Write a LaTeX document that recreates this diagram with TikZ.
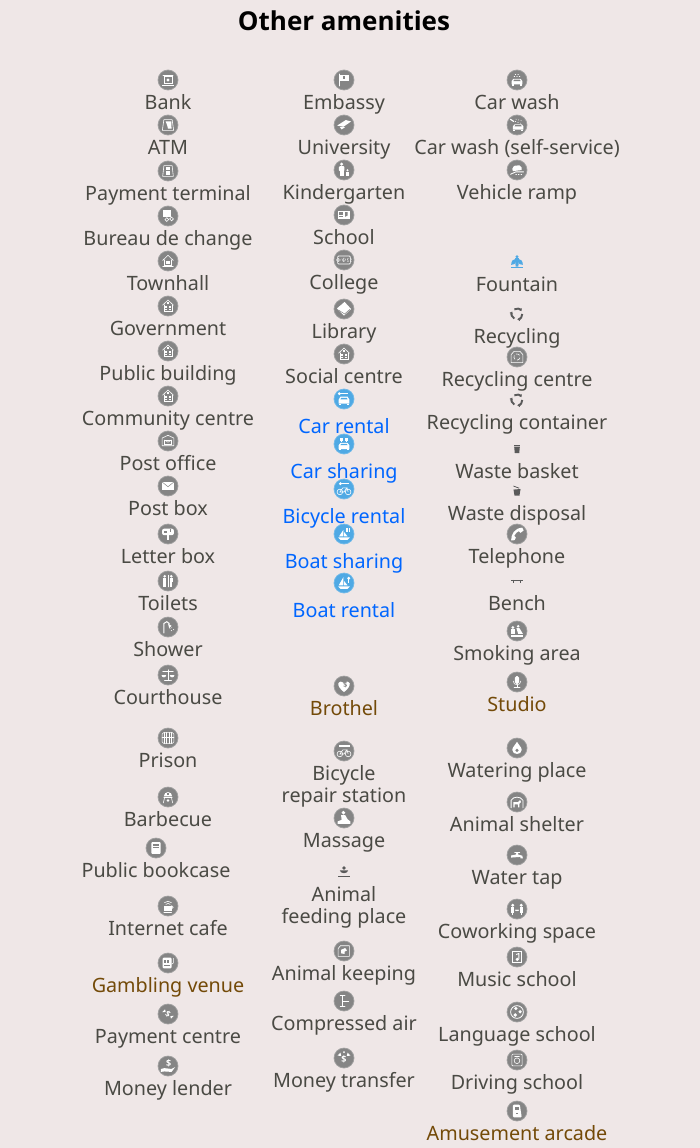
\documentclass[tikz,border=0pt]{standalone}
\usepackage{fontspec}
\usetikzlibrary{arrows.meta}
\setmainfont{Noto Sans}
\newfontfamily\titlefont{Open Sans}
\definecolor{paper}{HTML}{EFE7E7}
\definecolor{txtgray}{HTML}{4A4A44}
\definecolor{linkblue}{HTML}{0066FF}
\definecolor{venuebrown}{HTML}{734A08}
\definecolor{icgray}{HTML}{858585}
\definecolor{icring}{HTML}{A0A0A0}
\definecolor{icblue}{HTML}{4FA9E4}
\definecolor{smallgray}{HTML}{5A5A5A}
\tikzset{
  every pic/.style={scale=1.18},
  ic/.style={circle, fill=icgray, draw=icring, line width=.7pt, minimum size=20pt, inner sep=0},
  icb/.style={circle, fill=icblue, draw=icblue!80!white, line width=.7pt, minimum size=20pt, inner sep=0},
  spot/.style={minimum size=12pt, inner sep=0},
  lbl/.style={anchor=base, text=txtgray, inner sep=0, align=center, font=\fontsize{19.75}{22}\selectfont},
  lblb/.style={lbl, text=linkblue},
  lblv/.style={lbl, text=venuebrown},
  gw/.style={draw=white, line width=.6pt, line cap=round},
  pics/gbank/.style={code={
    \draw[gw] (-3.5,-3) rectangle (3.5,3.2); \draw[gw] (-4.8,4.4)--(4.8,4.4); \draw[gw] (-4.2,-4.2)--(4.2,-4.2);
    \fill[white] (0,0) circle (1.4);}},
  pics/gatm/.style={code={
    \draw[gw] (-3.5,-4.5)--(3.5,-4.5)--(4.8,4.5)--(-4.8,4.5)--cycle; \fill[white] (-2,-3)--(2.8,-3)--(3,3)--(0,3)--(-.8,0)--cycle;}},
  pics/gterm/.style={code={
    \draw[gw] (-3.5,-4.5)--(3.5,-4.5)--(4.5,4.5)--(-4.5,4.5)--cycle; \fill[white] (-1.8,-3) rectangle (1.8,-.8); \fill[white] (-2,.2) rectangle (2,3);}},
  pics/gchange/.style={code={
    \fill[white] (-4.5,-5) rectangle (2.5,.5); \draw[gw] (-1,3) circle (1.6); \draw[gw] (3,2.5) circle (1.6);}},
  pics/gtown/.style={code={
    \draw[gw] (-4.5,-.5)--(0,-4.8)--(4.5,-.5); \draw[gw] (-3.2,-1)--(-3.2,4)--(3.2,4)--(3.2,-1); \fill[white] (-1.3,.3) rectangle (1.3,2.5); \draw[gw] (-4.5,4.8)--(4.5,4.8);}},
  pics/ggov/.style={code={
    \draw[gw] (-4.5,-.8)--(0,-5)--(4.5,-.8); \draw[gw] (-3.4,-1)--(-3.4,4.6)--(3.4,4.6)--(3.4,-1); \fill[white] (-.7,-3) rectangle (.7,-1.6);
    \fill[white] (-2.2,-.4) rectangle (-.6,1.6); \fill[white] (.6,-.4) rectangle (2.2,1.6); \fill[white] (-2.2,2.4) rectangle (-.6,3.8); \fill[white] (.6,2.4) rectangle (2.2,3.8);}},
  pics/gpost/.style={code={
    \draw[gw] (-5,-2.5)--(0,-4.8)--(5,-2.5)--(5,4)--(-5,4)--cycle; \draw[gw, line width=.5pt] (-3,-.8) rectangle (3,2.6); \draw[gw, line width=.5pt] (-3,-.8)--(0,1)--(3,-.8);}},
  pics/gbox/.style={code={
    \fill[white] (-5,-3.4) rectangle (5,3.4); \draw[icgray, line width=.5pt] (-5,-3.4)--(0,.6)--(5,-3.4);}},
  pics/gletter/.style={code={
    \fill[white, rounded corners=2pt] (-5,-4.5) rectangle (5,1); \fill[white] (-1,0) rectangle (1,5); \fill[icgray] (-3.2,-2.6) rectangle (-.8,-.6); \fill[icgray] (1.6,-4.5) rectangle (2.6,-2);}},
  pics/gtoilet/.style={code={
    \fill[white] (-2.8,-4) circle (1.2); \fill[white] (2.8,-4) circle (1.2); \fill[white] (-4.2,-2.4) rectangle (-1.4,4.8); \fill[white] (1.4,-2.4) rectangle (4.2,.8); \fill[white] (1.9,.8) rectangle (3.7,4.8); \draw[gw, line width=.4pt] (0,-5)--(0,5);}},
  pics/gshower/.style={code={
    \draw[gw, line width=1pt] (-3.5,5)--(-3.5,-3)--(-1,-4.5)--(1,-3); \fill[white] (0,-3)--(3,-1)--(1,1)--cycle;
    \draw[gw, dotted] (1.5,1)--(3.5,4); \draw[gw, dotted] (3,.5)--(5,2.5);}},
  pics/gscale/.style={code={
    \draw[gw] (0,-4.5)--(0,4.2); \draw[gw] (-3,4.4)--(3,4.4); \draw[gw] (-4.5,-3)--(4.5,-3); \fill[white] (-5.5,0) arc (180:0:2) --cycle; \fill[white] (1.5,0) arc (180:0:2)--cycle;}},
  pics/gprison/.style={code={
    \draw[gw, rounded corners=1.5pt] (-5,-4.5) rectangle (5,4.5); \foreach \xb in {-3,-1,1,3} {\draw[gw, line width=1pt] (\xb,-4.5)--(\xb,4.5);} \draw[gw] (-5,-1)--(5,-1);}},
  pics/gbbq/.style={code={
    \fill[white] (-3.5,-.6) arc (180:360:3.5 and 3.6) --cycle; \draw[gw] (-3,1)--(-4,5); \draw[gw] (3,1)--(4,5); \draw[gw] (-3.5,.4)--(3.5,.4); \fill[white] (0,3) circle (1.2); \fill[icgray] (-1,-3.3) rectangle (1,-1.8);}},
  pics/gbookcase/.style={code={
    \fill[white, rounded corners=1pt] (-4,-5) rectangle (4,5); \fill[icgray] (-2.8,-3.6) rectangle (2.8,-1.6); \fill[icgray] (-2.8,-.8) rectangle (2.8,.4);}},
  pics/gcafe/.style={code={
    \draw[gw] (-3,-2.8) arc (-135:-45:4.2); \draw[gw] (-1.8,-1.4) arc (-135:-45:2.6); \fill[white] (-3.5,0) rectangle (3,4) ; \draw[gw] (3.2,1) circle (1.2); \draw[gw] (-3.5,5)--(3,5);}},
  pics/gslot/.style={code={
    \fill[white, rounded corners=1pt] (-4.5,-4.5) rectangle (3,4.5); \fill[icgray] (-3.3,-2.6) rectangle (-1.7,0); \fill[icgray] (-1,-2.6) rectangle (.6,0); \fill[icgray] (-3.3,1.5) rectangle (1.5,2.5); \draw[gw] (4.5,-4)--(4.5,0)--(3,1);}},
  pics/gpayc/.style={code={
    \node[text=white, font=\fontsize{8}{8}\selectfont\titlefont\bfseries, inner sep=0, rotate=-30] (gd) at (0,0) {\$}; \fill[white] (-5,-1.5)--(-2.5,-4)--(-2,-1.8)--cycle; \fill[white] (5,1.5)--(2.5,4)--(2,1.8)--cycle;}},
  pics/glender/.style={code={
    \node[text=white, font=\fontsize{9}{9}\selectfont\titlefont\bfseries, inner sep=0] (gd) at (.5,-2.2) {\$}; \fill[white] (-6,2.5)--(-3,1.8)--(3,2.5)--(6,1)--(3,5)--(-3,4.6)--(-6,5)--cycle;}},
  pics/gflag/.style={code={
    \draw[gw, line width=.9pt] (-4,-5)--(-4,5); \fill[white] (-3.5,-4.5) rectangle (4.2,1.2); \fill[icgray] (-1,-3) rectangle (1.2,-1);}},
  pics/gcap/.style={code={
    \fill[white] (-5.8,.5)--(1.5,-4.2)--(6,-3)--(-.5,1.5)--cycle; \fill[white] (-3.5,1.8)--(1,1.8)--(-2,3.8)--cycle;}},
  pics/gkinder/.style={code={
    \fill[white] (-2,-5) circle (1.4); \fill[white, rounded corners=1pt] (-4.4,-3.2) rectangle (.4,1); \fill[white] (-3.6,1) rectangle (-.4,5.4); \fill[white] (3,.2) circle (1); \fill[white] (2,1.4) rectangle (4,5.4);}},
  pics/gschool/.style={code={
    \fill[white] (-5.4,-3.6) rectangle (5.4,3.2); \fill[icgray] (-4,-2.4) rectangle (-1,-.4); \fill[icgray] (1,-2.4)--(3,-2.4)--(3,.5)--(1,1.5)--cycle; \draw[icgray, line width=.5pt] (-4,1)--(-1,1);}},
  pics/gcollege/.style={code={
    \draw[gw, rounded corners=1pt] (-5.4,-3.4) rectangle (5.4,3.4); \node[text=white, font=\fontsize{6}{6}\selectfont, inner sep=0] (gd) at (0,0) {$\Phi\Psi\Omega$};}},
  pics/glib/.style={code={
    \fill[white] (-6,-.5)--(.5,-6)--(6,0)--(0,5.6)--cycle; \draw[icgray, line width=.5pt] (-4.8,.8)--(.5,4.2)--(5,.3);}},
  pics/gkeycar/.style={code={
    \fill[white] (-4,-4.5) circle (1.3); \fill[white] (-4,-5.1) rectangle (3.5,-3.9); \fill[white] (-4.5,.5)--(-3,-2)--(3,-2)--(4.5,.5)--(4.5,4)--(-4.5,4)--cycle; \fill[icblue] (-2.4,-1)--(2.4,-1)--(3,.4)--(-3,.4)--cycle; \fill[white] (-4.2,4) rectangle (-2.6,5.2); \fill[white] (2.6,4) rectangle (4.2,5.2);}},
  pics/gsharecar/.style={code={
    \fill[white] (-3,-5.5) rectangle (-1.2,-2.5); \fill[white] (1.2,-5.5) rectangle (3,-2.5); \fill[white] (-2.6,-2.5) rectangle (-1.6,-1.5); \fill[white] (1.6,-2.5) rectangle (2.6,-1.5);
    \fill[white] (-4.5,1)--(-3,-1)--(3,-1)--(4.5,1)--(4.5,4.4)--(-4.5,4.4)--cycle; \fill[icblue] (-2.4,-.2)--(2.4,-.2)--(3,1)--(-3,1)--cycle; \fill[white] (-4.2,4.4) rectangle (-2.6,5.4); \fill[white] (2.6,4.4) rectangle (4.2,5.4);}},
  pics/gkeybike/.style={code={
    \fill[white] (-3,-4.5) circle (1.3); \fill[white] (-3,-5.1) rectangle (4,-3.9); \draw[gw] (-3.5,2.5) circle (2.4); \draw[gw] (3.5,2.5) circle (2.4); \draw[gw] (-3.5,2.5)--(-1,-1)--(2.5,-1)--(0,2.5)--cycle; \draw[gw] (2.5,-1)--(3.5,2.5);}},
  pics/gshareboat/.style={code={
    \fill[white] (-4.2,2)--(-.5,-3.5)--(-.5,2)--cycle; \fill[white] (.2,-1.5)--(3,2)--(.2,2)--cycle; \fill[white] (-5,2.8)--(5,2.8)--(3,5)--(-3,5)--cycle; \fill[white] (2,-5) rectangle (3,-2); \fill[white] (4,-5) rectangle (5,-2);}},
  pics/gkeyboat/.style={code={
    \fill[white] (-4.5,2)--(-.5,-5)--(-.5,2)--cycle; \fill[white] (.2,-1.5)--(3,2)--(.2,2)--cycle; \fill[white] (-5,2.8)--(5,2.8)--(3,5)--(-3,5)--cycle; \fill[white] (4,-4) circle (1.4); \fill[white] (3.5,-4) rectangle (4.5,0);}},
  pics/gheart/.style={code={
    \fill[white] (0,5.2) .. controls (-8,-1) and (-5,-6.2) .. (0,-2.4) .. controls (5,-6.2) and (8,-1) .. (0,5.2); \node[text=icgray, font=\fontsize{7}{7}\selectfont\titlefont\bfseries, inner sep=0] (gd) at (1.2,-.5) {\$};}},
  pics/gbikerep/.style={code={
    \fill[white] (-4.5,-5.2) rectangle (5,-3.6); \draw[gw] (-3.5,2.5) circle (2.4); \draw[gw] (3.5,2.5) circle (2.4); \draw[gw] (-3.5,2.5)--(-1,-1)--(2.5,-1)--(0,2.5)--cycle; \draw[gw] (2.5,-1)--(3.5,2.5);}},
  pics/gmassage/.style={code={
    \fill[white] (-.5,-4.5) circle (1.6); \fill[white] (-2.5,-2.5)--(1,-2.5)--(3,1)--(5.5,3)--(5.5,5)--(-5.5,5)--(-5.5,3)--(-2,1.5)--cycle;}},
  pics/gkeep/.style={code={
    \draw[gw] (-5,-2)--(-3,-4.5)--(4.5,-4.5)--(4.5,4.5)--(-5,4.5)--cycle; \fill[white] (-2.5,2)--(-2.5,-1)--(1,-2.5)--(2.5,-.5)--(.5,.5)--(.5,2.5)--cycle;}},
  pics/gair/.style={code={
    \draw[gw, line width=1.6pt, line cap=butt] (-1.2,-5.2)--(-1.2,5.2); \draw[gw, line width=1pt] (-1,0)--(4,0); \draw[gw, line width=1pt] (-3,-5)--(.8,-5); \draw[gw, line width=1pt] (-3,5)--(.8,5);}},
  pics/gmoneyt/.style={code={
    \node[text=white, font=\fontsize{9}{9}\selectfont\titlefont\bfseries, inner sep=0] (gd) at (0,1.5) {\$}; \fill[white] (-5.5,-2)--(-3,-4.5)--(-2.4,-1.8)--cycle; \fill[white] (5.5,-2)--(3,-4.5)--(2.4,-1.8)--cycle; \fill[white] (0,-5) circle (.8);}},
  pics/gwash/.style={code={
    \fill[white] (-4.5,.8)--(-3,-1)--(3,-1)--(4.5,.8)--(4.5,3.8)--(-4.5,3.8)--cycle; \fill[icgray] (-2.4,-.3)--(2.4,-.3)--(3,.9)--(-3,.9)--cycle; \fill[white] (-4.2,3.8) rectangle (-2.6,5); \fill[white] (2.6,3.8) rectangle (4.2,5); \draw[gw, dotted] (-2.5,-3)--(2.5,-3); \draw[gw, dotted] (-1.5,-5)--(1.5,-5);}},
  pics/gwashs/.style={code={
    \fill[white] (-3.5,1.2)--(-2,-.6)--(4,-.6)--(5.5,1.2)--(5.5,4)--(-3.5,4)--cycle; \fill[icgray] (-1.4,0)--(3.4,0)--(4,1.1)--(-2,1.1)--cycle; \fill[white] (-3.2,4) rectangle (-1.6,5.2); \fill[white] (3.6,4) rectangle (5.2,5.2); \draw[gw, line width=1.2pt] (-5.5,-4.8)--(-2.8,-3); \draw[gw, dotted] (-1.5,-3)--(3,-1.5); \draw[gw, dotted] (-1,-5)--(4,-3.5);}},
  pics/gramp/.style={code={
    \fill[white] (-4,-1)--(-2.5,-3.5)--(2,-4)--(4,-2)--(4,0)--(-3.5,1)--cycle; \draw[gw, line width=.9pt] (-5.5,3.6)--(-1,1.6)--(5.5,1.6); \draw[gw, dotted, line width=.9pt] (-1,4)--(5.5,4);}},
  pics/grecc/.style={code={
    \draw[gw] (-5,-2)--(-2.5,-4.8)--(2.5,-4.8)--(5,-2)--(5,4.8)--(-5,4.8)--cycle; \foreach \arot in {0,120,240} {\draw[gw, rotate=\arot] (15:2.6) arc (15:85:2.6);}}},
  pics/gtel/.style={code={
    \fill[white] (-5,5.5)--(-2,5.2)--(-1,3)--(-2.4,1.6) .. controls (-1,-.6) and (0,-2) .. (1.6,-2.4) -- (3,-1)--(5.6,-3)--(4.5,-5.4) .. controls (-2,-5) and (-5,0) .. cycle;}},
  pics/gsmoke/.style={code={
    \fill[white] (-5.5,3)--(5.5,3)--(5.5,5)--(-5.5,5)--cycle; \fill[white] (-3.5,-3) circle (1.2); \fill[white] (-5,-1.5) rectangle (-1.6,2.4); \fill[white] (1,-4) circle (1.2); \fill[white] (-.5,-2.5)--(2,-2.5)--(5,2.4)--(1,2.4)--cycle;}},
  pics/gmic/.style={code={
    \fill[white, rounded corners=1.6pt] (-1.8,-5) rectangle (1.8,1.6); \draw[gw] (-3.2,-.8) arc (180:0:3.2); \draw[gw] (0,2.4)--(0,4.6); \draw[gw] (-2.5,4.8)--(2.5,4.8);}},
  pics/gdrop/.style={code={
    \fill[white] (0,-5.2) .. controls (1,-2.6) and (4,-1) .. (4,1.6) .. controls (4,6.2) and (-4,6.2) .. (-4,1.6) .. controls (-4,-1) and (-1,-2.6) .. (0,-5.2); \fill[icgray] (0,2) circle (1.4);}},
  pics/gshelter/.style={code={
    \draw[gw, line width=.8pt] (-5,5)--(-5,-1.5) .. controls (-3,-5) and (3,-5) .. (5,-1.5)--(5,5); \fill[white] (-3,4.6)--(-3,0)--(1,0)--(2.6,-1.6)--(3.4,0)--(2,1.6)--(2,4.6)--(1,4.6)--(.8,2)--(-2,2)--(-2,4.6)--cycle;}},
  pics/gtap/.style={code={
    \fill[white] (-5,2.2)--(-5,.4)--(-1,-.4)--(-.5,-1.8)--(.8,-1.8)--(1,-.4)--(4.5,.6)--(5,2.8)--(3,2.8)--(2.8,1.6)--cycle; \draw[gw] (-2,-2.6)--(2.4,-2.6);}},
  pics/gcowork/.style={code={
    \fill[white] (-3.6,-3.2) circle (1.3); \fill[white] (3.6,-3.2) circle (1.3); \fill[white] (-5,-1.6) rectangle (-2.2,3); \fill[white] (2.2,-1.6) rectangle (5,3); \fill[white] (-4.6,3) rectangle (-3,5); \fill[white] (3,3) rectangle (4.6,5); \draw[gw, line width=.5pt, {Latex[length=1.5pt,width=2pt]}-{Latex[length=1.5pt,width=2pt]}] (-1.8,1)--(1.8,1); }},
  pics/gmusic/.style={code={
    \draw[gw] (-4,-4.8) rectangle (4,4.8); \draw[gw, line width=.9pt] (1.6,1.8)--(1.6,-3)--(-.5,-2.2); \fill[white] (.2,2) circle (1.4);}},
  pics/glang/.style={code={
    \draw[gw, line width=.8pt] (0,0) circle (5.4); \fill[white] (-1,-3) circle (1.5); \fill[white] (2.6,-.2) circle (1.5); \fill[white] (-1.5,2.6) circle (1.6);}},
  pics/gdrive/.style={code={
    \draw[gw, rounded corners=1pt] (-4.4,-5) rectangle (4.4,5); \draw[gw] (0,.6) circle (2.4); \draw[gw] (-2,-3.4)--(2,-3.4);}},
  pics/garcade/.style={code={
    \fill[white, rounded corners=1pt] (-3.4,-5.4)--(2.4,-5.4)--(4,5.4)--(-3.4,5.4)--cycle; \fill[icgray] (-1.8,-3.6) rectangle (1.4,-.6); \fill[icgray] (-.6,1.4) rectangle (.8,2.8);}},
  pics/gfountain/.style={code={
    \fill[icblue] (0,-4.4) circle (1.4); \fill[icblue] (-1.5,-3.2) -- (1.5,-3.2) -- (1.2,4) -- (-1.2,4) -- cycle;
    \fill[icblue] (-1,-2.8) .. controls (-3.4,-2.6) and (-4.8,-.8) .. (-5,2.4) -- (-2.2,1.8) .. controls (-2,.6) and (-1.6,.2) .. (-1,0) -- cycle;
    \fill[icblue] (1,-2.8) .. controls (3.4,-2.6) and (4.8,-.8) .. (5,2.4) -- (2.2,1.8) .. controls (2,.6) and (1.6,.2) .. (1,0) -- cycle;
    \fill[icblue] (-5,3.9) rectangle (5,4.9);}},
  pics/grecy/.style={code={
    \foreach \arot in {0,120,240} {\draw[smallgray, line width=1.9pt, rotate=\arot, -{Latex[length=2.6pt,width=4pt]}] (0:4.5) arc (0:88:4.5);}}},
  pics/gbasket/.style={code={
    \fill[smallgray] (-2.4,-2)--(2.4,-2)--(1.9,3.4)--(-1.9,3.4)--cycle; \fill[smallgray] (-2.8,-3.4) rectangle (2.8,-2.7);}},
  pics/gdisposal/.style={code={
    \fill[smallgray] (-3,-1.2)--(3,-1.7)--(2.1,3.9)--(-2.1,3.9)--cycle; \draw[smallgray, line width=.8pt] (-3,-4.2)--(1.8,-2.4);}},
  pics/gbench/.style={code={
    \draw[smallgray, line width=.6pt] (-5,-1)--(5,-1); \draw[smallgray, line width=.6pt] (-3.2,-1)--(-3.2,1.4); \draw[smallgray, line width=.6pt] (3.2,-1)--(3.2,1.4);}},
  pics/gfeed/.style={code={
    \fill[smallgray] (0,-3.4) circle (1.5); \fill[smallgray] (-3.5,-1.4) arc (180:0:3.5 and 2.4) --cycle; \fill[smallgray] (-5,3.4) rectangle (5,4.4);}}
}
\begin{document}
\begin{tikzpicture}[x=1pt, y=-1pt]
    \useasboundingbox [fill=paper] (0,0) rectangle (700,1148);

    \node [anchor=base, inner sep=0, font=\fontsize{26}{28}\selectfont\titlefont\bfseries] (title) at (344,31) {Other amenities};

    % left column
    \node [ic] (bank) at (168,80) {}; \pic at (bank) {gbank};
    \node [lbl] (bankt) at (168,109) {Bank};
    \node [ic] (atm) at (168,125) {}; \pic at (atm) {gatm};
    \node [lbl] (atmt) at (168,154) {ATM};
    \node [ic] (term) at (168,171) {}; \pic at (term) {gterm};
    \node [lbl] (termt) at (168,200) {Payment terminal};
    \node [ic] (change) at (168,216) {}; \pic at (change) {gchange};
    \node [lbl] (changet) at (168,245) {Bureau de change};
    \node [ic] (town) at (168,261) {}; \pic at (town) {gtown};
    \node [lbl] (townt) at (168,290) {Townhall};
    \node [ic] (gov) at (168,306) {}; \pic at (gov) {ggov};
    \node [lbl] (govt) at (168,335) {Government};
    \node [ic] (public) at (168,351) {}; \pic at (public) {ggov};
    \node [lbl] (publict) at (168,380) {Public building};
    \node [ic] (comm) at (168,396) {}; \pic at (comm) {ggov};
    \node [lbl] (commt) at (168,425) {Community centre};
    \node [ic] (post) at (168,441) {}; \pic at (post) {gpost};
    \node [lbl] (postt) at (168,470) {Post office};
    \node [ic] (box) at (168,486) {}; \pic at (box) {gbox};
    \node [lbl] (boxt) at (168,515) {Post box};
    \node [ic] (letter) at (168,534) {}; \pic at (letter) {gletter};
    \node [lbl] (lettert) at (168,563) {Letter box};
    \node [ic] (toilet) at (168,581) {}; \pic at (toilet) {gtoilet};
    \node [lbl] (toilett) at (168,610) {Toilets};
    \node [ic] (shower) at (168,627) {}; \pic at (shower) {gshower};
    \node [lbl] (showert) at (168,656) {Shower};
    \node [ic] (court) at (168,675) {}; \pic at (court) {gscale};
    \node [lbl] (courtt) at (168,704) {Courthouse};
    \node [ic] (prison) at (168,738) {}; \pic at (prison) {gprison};
    \node [lbl] (prisont) at (168,767) {Prison};
    \node [ic] (bbq) at (168,797) {}; \pic at (bbq) {gbbq};
    \node [lbl] (bbqt) at (168,826) {Barbecue};
    \node [ic] (bookc) at (156,848) {}; \pic at (bookc) {gbookcase};
    \node [lbl] (bookct) at (156,877) {Public bookcase};
    \node [ic] (cafe) at (168,906) {}; \pic at (cafe) {gcafe};
    \node [lbl] (cafet) at (168,935) {Internet cafe};
    \node [ic] (gamble) at (168,963) {}; \pic at (gamble) {gslot};
    \node [lblv] (gamblet) at (168,992) {Gambling venue};
    \node [ic] (payc) at (168,1014) {}; \pic at (payc) {gpayc};
    \node [lbl] (payct) at (168,1043) {Payment centre};
    \node [ic] (lender) at (168,1066) {}; \pic at (lender) {glender};
    \node [lbl] (lendert) at (168,1095) {Money lender};

    % middle column
    \node [ic] (embassy) at (344,80) {}; \pic at (embassy) {gflag};
    \node [lbl] (embassyt) at (344,109) {Embassy};
    \node [ic] (univ) at (344,125) {}; \pic at (univ) {gcap};
    \node [lbl] (univt) at (344,154) {University};
    \node [ic] (kinder) at (344,170) {}; \pic at (kinder) {gkinder};
    \node [lbl] (kindert) at (344,199) {Kindergarten};
    \node [ic] (school) at (344,215) {}; \pic at (school) {gschool};
    \node [lbl] (schoolt) at (344,244) {School};
    \node [ic] (college) at (344,260) {}; \pic at (college) {gcollege};
    \node [lbl] (collegt) at (344,289) {College};
    \node [ic] (library) at (344,309) {}; \pic at (library) {glib};
    \node [lbl] (libraryt) at (344,338) {Library};
    \node [ic] (social) at (344,354) {}; \pic at (social) {ggov};
    \node [lbl] (socialt) at (344,383) {Social centre};
    \node [icb] (carr) at (344,399) {}; \pic at (carr) {gkeycar};
    \node [lblb] (carrt) at (344,433) {Car rental};
    \node [icb] (cars) at (344,444) {}; \pic at (cars) {gsharecar};
    \node [lblb] (carst) at (344,478) {Car sharing};
    \node [icb] (biker) at (344,489) {}; \pic at (biker) {gkeybike};
    \node [lblb] (bikert) at (344,523) {Bicycle rental};
    \node [icb] (boats) at (344,534) {}; \pic at (boats) {gshareboat};
    \node [lblb] (boatst) at (344,568) {Boat sharing};
    \node [icb] (boatr) at (344,583) {}; \pic at (boatr) {gkeyboat};
    \node [lblb] (boatrt) at (344,617) {Boat rental};
    \node [ic] (brothel) at (344,686) {}; \pic at (brothel) {gheart};
    \node [lblv] (brothelt) at (344,715) {Brothel};
    \node [ic] (bikerep) at (344,751) {}; \pic at (bikerep) {gbikerep};
    \node [lbl] (bikerept) at (344,802) {Bicycle\\repair station};
    \node [ic] (massage) at (344,818) {}; \pic at (massage) {gmassage};
    \node [lbl] (massaget) at (344,847) {Massage};
    \node [spot] (feed) at (344,872) {}; \pic at (feed) {gfeed};
    \node [lbl] (feedt) at (344,923) {Animal\\feeding place};
    \node [ic] (keep) at (344,951) {}; \pic at (keep) {gkeep};
    \node [lbl] (keept) at (344,980) {Animal keeping};
    \node [ic] (air) at (344,1001) {}; \pic at (air) {gair};
    \node [lbl] (airt) at (344,1030) {Compressed air};
    \node [ic] (moneyt) at (344,1058) {}; \pic at (moneyt) {gmoneyt};
    \node [lbl] (moneytt) at (344,1087) {Money transfer};

    % right column
    \node [ic] (wash) at (517,80) {}; \pic at (wash) {gwash};
    \node [lbl] (washt) at (517,109) {Car wash};
    \node [ic] (washs) at (517,125) {}; \pic at (washs) {gwashs};
    \node [lbl] (washst) at (517,154) {Car wash (self-service)};
    \node [ic] (ramp) at (517,170) {}; \pic at (ramp) {gramp};
    \node [lbl] (rampt) at (517,199) {Vehicle ramp};
    \node [spot] (fountain) at (517,262) {}; \pic at (fountain) {gfountain};
    \node [lbl] (fountaint) at (517,291) {Fountain};
    \node [spot] (recy) at (517,314) {}; \pic at (recy) {grecy};
    \node [lbl] (recyt) at (517,343) {Recycling};
    \node [ic] (recc) at (517,357) {}; \pic at (recc) {grecc};
    \node [lbl] (recct) at (517,386) {Recycling centre};
    \node [spot] (recb) at (517,400) {}; \pic at (recb) {grecy};
    \node [lbl] (recbt) at (517,429) {Recycling container};
    \node [spot] (basket) at (517,449) {}; \pic at (basket) {gbasket};
    \node [lbl] (baskett) at (517,478) {Waste basket};
    \node [spot] (dispos) at (517,491) {}; \pic at (dispos) {gdisposal};
    \node [lbl] (dispost) at (517,520) {Waste disposal};
    \node [ic] (tel) at (517,534) {}; \pic at (tel) {gtel};
    \node [lbl] (telt) at (517,563) {Telephone};
    \node [spot] (bench) at (517,581) {}; \pic at (bench) {gbench};
    \node [lbl] (bencht) at (517,610) {Bench};
    \node [ic] (smoke) at (517,631) {}; \pic at (smoke) {gsmoke};
    \node [lbl] (smoket) at (517,660) {Smoking area};
    \node [ic] (studio) at (517,682) {}; \pic at (studio) {gmic};
    \node [lblv] (studiot) at (517,711) {Studio};
    \node [ic] (waterp) at (517,748) {}; \pic at (waterp) {gdrop};
    \node [lbl] (waterpt) at (517,777) {Watering place};
    \node [ic] (shelter) at (517,802) {}; \pic at (shelter) {gshelter};
    \node [lbl] (sheltert) at (517,831) {Animal shelter};
    \node [ic] (tap) at (517,855) {}; \pic at (tap) {gtap};
    \node [lbl] (tapt) at (517,884) {Water tap};
    \node [ic] (cowork) at (517,909) {}; \pic at (cowork) {gcowork};
    \node [lbl] (coworkt) at (517,938) {Coworking space};
    \node [ic] (music) at (517,957) {}; \pic at (music) {gmusic};
    \node [lbl] (musict) at (517,986) {Music school};
    \node [ic] (lang) at (517,1012) {}; \pic at (lang) {glang};
    \node [lbl] (langt) at (517,1041) {Language school};
    \node [ic] (drive) at (517,1060) {}; \pic at (drive) {gdrive};
    \node [lbl] (drivet) at (517,1089) {Driving school};
    \node [ic] (arcade) at (517,1111) {}; \pic at (arcade) {garcade};
    \node [lblv] (arcadet) at (517,1140) {Amusement arcade};
\end{tikzpicture}
\end{document}
